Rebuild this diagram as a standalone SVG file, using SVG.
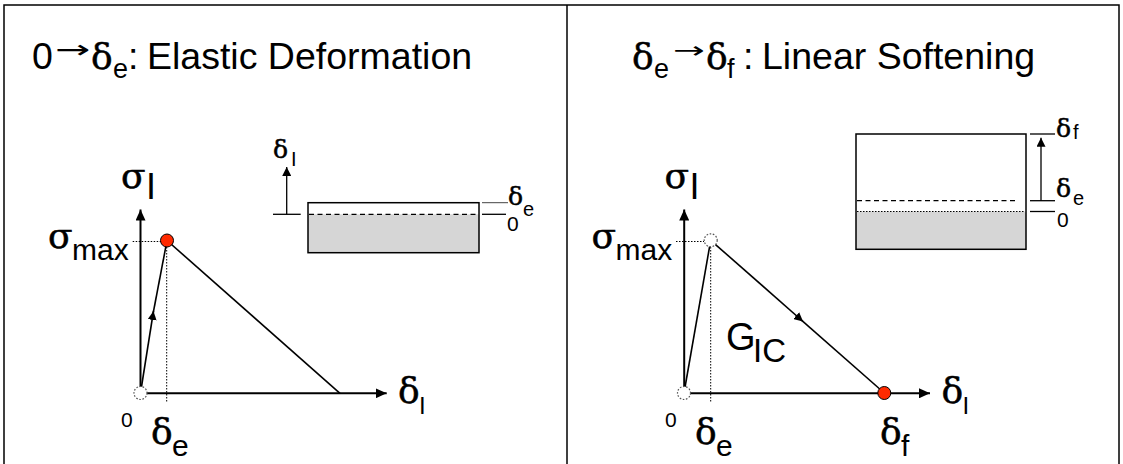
<svg xmlns="http://www.w3.org/2000/svg" width="1123" height="464" viewBox="0 0 1123 464">
<defs>
<marker id="ah" markerUnits="userSpaceOnUse" markerWidth="12" markerHeight="10" refX="11" refY="5" orient="auto"><path d="M0,0 L11,5 L0,10 Z" fill="#000"/></marker>
<marker id="ahs" markerUnits="userSpaceOnUse" markerWidth="10" markerHeight="9" refX="9" refY="4.5" orient="auto"><path d="M0,0 L9,4.5 L0,9 Z" fill="#000"/></marker>
</defs>
<style>
text{font-family:"Liberation Sans",Arial,sans-serif;fill:#000}
.gr{font-family:"DejaVu Serif","Liberation Serif",serif;stroke:#000;stroke-width:0.5}
.sn{font-family:"Liberation Sans",Arial,sans-serif;stroke:none}
.arr{font-family:"DejaVu Sans",sans-serif}
.ax{stroke:#000;stroke-width:2;fill:none}
.ln{stroke:#000;stroke-width:1.6;fill:none}
.thin{stroke:#000;stroke-width:1.3;fill:none}
.dot{stroke:#000;stroke-width:1;stroke-dasharray:1.5 1.5;fill:none}
.dash{stroke:#000;stroke-width:1.3;stroke-dasharray:5 3.5;fill:none}
.open{fill:#fff;stroke:#555;stroke-width:1.2;stroke-dasharray:1.6 1.6}
.red{fill:#ff2a00;stroke:#000;stroke-width:1}
.gray{fill:#d6d6d6;stroke:none}
</style>

<g id="frame">
<rect x="4" y="5" width="1115" height="480" fill="#fff" stroke="#000" stroke-width="1.5"/>
<line x1="567" y1="5" x2="567" y2="464" stroke="#000" stroke-width="1.5"/>
</g>

<g id="title-left">
<text x="32" y="69" font-size="37.5">0</text>
<text class="arr" transform="translate(55,58) scale(1,0.6)" x="0" y="0" font-size="42">→</text>
<text font-size="37.5"><tspan class="gr" x="91" y="69" font-size="36">δ</tspan><tspan x="113" y="78" font-size="27">e</tspan><tspan x="128" y="69">:</tspan><tspan x="147" y="69">Elastic Deformation</tspan></text>
</g>

<g id="title-right">
<text font-size="37.5"><tspan class="gr" x="632" y="69" font-size="36">δ</tspan><tspan x="654" y="78" font-size="27">e</tspan></text>
<text class="arr" transform="translate(673,58) scale(1,0.6)" x="0" y="0" font-size="38">→</text>
<text font-size="37.5"><tspan class="gr" x="706" y="69" font-size="36">δ</tspan><tspan x="727" y="78" font-size="27">f</tspan><tspan x="743" y="69">:</tspan><tspan x="762" y="69">Linear Softening</tspan></text>
</g>

<g id="connectors">
<line class="ax" x1="140.5" y1="393.3" x2="140.5" y2="209.5" marker-end="url(#ah)"/>
<line class="ax" x1="140.5" y1="393.3" x2="386.7" y2="393.3" marker-end="url(#ah)"/>
<line class="ln" x1="140.5" y1="393" x2="153.5" y2="311" marker-end="url(#ahs)"/>
<line class="ln" x1="153" y1="314" x2="167" y2="240.5"/>
<line class="ln" x1="167" y1="240.5" x2="340" y2="393.3"/>
<line class="dot" x1="132.7" y1="241.5" x2="162" y2="241.5"/>
<line class="dot" x1="166.7" y1="247" x2="166.7" y2="401.7"/>
<line class="ax" x1="684.2" y1="393.3" x2="684.2" y2="209.5" marker-end="url(#ah)"/>
<line class="ax" x1="684.2" y1="393.3" x2="930" y2="393.3" marker-end="url(#ah)"/>
<line class="ln" x1="684" y1="393" x2="710.7" y2="240.3"/>
<line class="ln" x1="710.7" y1="240.3" x2="803" y2="321.5" marker-end="url(#ahs)"/>
<line class="ln" x1="800" y1="318.8" x2="884.3" y2="393"/>
<line class="dot" x1="676" y1="241.5" x2="704" y2="241.5"/>
<line class="dot" x1="710.7" y1="247" x2="710.7" y2="401.7"/>
</g>

<g id="points">
<circle class="open" cx="140.5" cy="393" r="6.5"/>
<circle class="red" cx="167" cy="240.5" r="6.5"/>
<circle class="open" cx="684" cy="393" r="6.5"/>
<circle class="open" cx="710.7" cy="240.3" r="6.5"/>
<circle class="red" cx="884.3" cy="393" r="6.5"/>
</g>

<g id="labels-left">
<text font-size="36"><tspan class="gr" x="121" y="188">σ</tspan><tspan class="sn" x="146" y="198.5">I</tspan></text>
<text font-size="36"><tspan class="gr" x="48" y="248">σ</tspan><tspan class="sn" x="72" y="260" font-size="30">max</tspan></text>
<text x="121" y="426.7" font-size="21">0</text>
<text font-size="36"><tspan class="gr" x="151" y="444">δ</tspan><tspan class="sn" x="172" y="456" font-size="30">e</tspan></text>
<text font-size="36"><tspan class="gr" x="398" y="403.3">δ</tspan><tspan class="sn" x="419" y="414" font-size="24">I</tspan></text>
</g>

<g id="labels-right">
<text font-size="36"><tspan class="gr" x="664.5" y="188">σ</tspan><tspan class="sn" x="689.5" y="198.5">I</tspan></text>
<text font-size="36"><tspan class="gr" x="591.5" y="248">σ</tspan><tspan class="sn" x="615.5" y="260" font-size="30">max</tspan></text>
<text x="665" y="426.7" font-size="21">0</text>
<text font-size="36"><tspan class="gr" x="695" y="444">δ</tspan><tspan class="sn" x="716" y="456" font-size="30">e</tspan></text>
<text font-size="36"><tspan class="gr" x="880" y="444">δ</tspan><tspan class="sn" x="901" y="456" font-size="30">f</tspan></text>
<text font-size="36"><tspan class="gr" x="941.5" y="403.3">δ</tspan><tspan class="sn" x="962.5" y="414" font-size="24">I</tspan></text>
<text font-size="38"><tspan x="726" y="350">G</tspan><tspan x="753" y="362" font-size="33">IC</tspan></text>
</g>

<g id="inset-left">
<rect class="gray" x="308" y="214.3" width="171" height="38.4"/>
<rect x="308" y="202.7" width="171" height="50" fill="none" stroke="#000" stroke-width="1.5"/>
<line class="dash" x1="309" y1="214.3" x2="478" y2="214.3"/>
<line class="thin" x1="273" y1="214.3" x2="300.7" y2="214.3"/>
<line class="thin" x1="286.7" y1="214.3" x2="286.7" y2="167" marker-end="url(#ahs)"/>
<line stroke="#444" stroke-width="1" x1="482" y1="202.7" x2="508" y2="202.7"/>
<line class="thin" x1="482" y1="214.3" x2="506" y2="214.3"/>
<text font-size="25"><tspan class="gr" x="273" y="158">δ</tspan><tspan class="sn" x="291" y="166" font-size="20">I</tspan></text>
<text font-size="25"><tspan class="gr" x="508" y="205">δ</tspan><tspan class="sn" x="523" y="216" font-size="20">e</tspan></text>
<text x="507" y="231" font-size="21">0</text>
</g>

<g id="inset-right">
<rect class="gray" x="856" y="211.5" width="170" height="37.8"/>
<rect x="856" y="134" width="170" height="115.3" fill="none" stroke="#000" stroke-width="1.5"/>
<line class="dash" x1="857" y1="200.7" x2="1017" y2="200.7"/>
<line class="dot" x1="857" y1="211.5" x2="1025" y2="211.5"/>
<line class="thin" x1="1030" y1="134" x2="1055" y2="134"/>
<line class="thin" x1="1030" y1="200.7" x2="1055" y2="200.7"/>
<line class="thin" x1="1030" y1="211.5" x2="1055" y2="211.5"/>
<line class="thin" x1="1041" y1="200.7" x2="1041" y2="137.7" marker-end="url(#ahs)"/>
<text font-size="25"><tspan class="gr" x="1056" y="136.7">δ</tspan><tspan class="sn" x="1073" y="139" font-size="20">f</tspan></text>
<text font-size="25"><tspan class="gr" x="1056" y="197.3">δ</tspan><tspan class="sn" x="1073" y="205" font-size="20">e</tspan></text>
<text x="1057" y="227.3" font-size="21">0</text>
</g>
</svg>
